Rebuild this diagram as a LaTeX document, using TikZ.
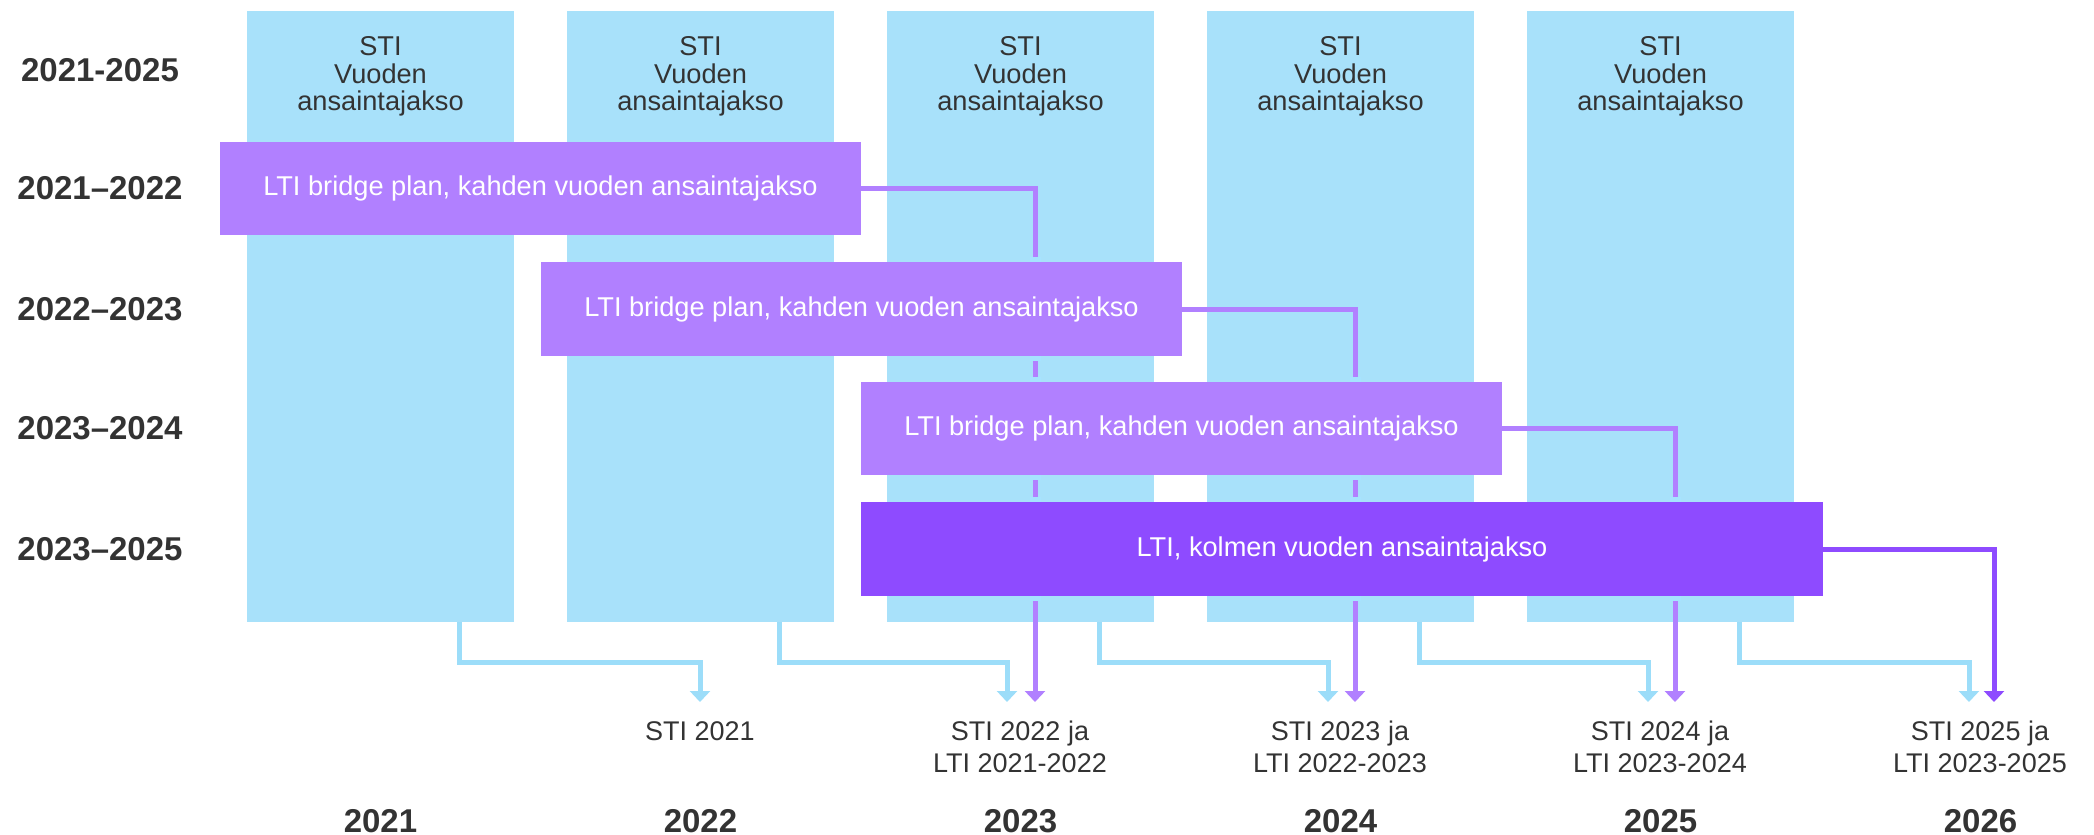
\documentclass[tikz,border=0pt]{standalone}
\usepackage{fontspec}
\setmainfont{Liberation Sans}
\usetikzlibrary{arrows.meta}
\definecolor{colblue}{HTML}{A8E1FA}
\definecolor{lineblue}{HTML}{9CDDF9}
\definecolor{capblue}{HTML}{A6E3FF}
\definecolor{bridge}{HTML}{B180FF}
\definecolor{ltiviolet}{HTML}{8E4BFF}
\definecolor{txt}{HTML}{333333}
\pgfdeclarelayer{cols}
\pgfdeclarelayer{lines}
\pgfsetlayers{cols,lines,main}
\tikzset{
  colbox/.style={fill=colblue, draw=none, minimum width=267pt, minimum height=611pt, inner sep=0pt},
  coltext/.style={text=txt, font=\fontsize{27.2}{27.5}\selectfont, align=center, inner sep=0pt, anchor=north},
  bridgebox/.style={fill=bridge, draw=none, minimum width=641pt, minimum height=93.5pt, inner sep=0pt, text=white, font=\fontsize{27.2}{27.5}\selectfont},
  ltibox/.style={fill=ltiviolet, draw=none, minimum width=962pt, minimum height=94pt, inner sep=0pt, text=white, font=\fontsize{27.2}{27.5}\selectfont},
  rowlabel/.style={text=txt, font=\fontsize{33}{34}\selectfont\bfseries, inner sep=0pt},
  yearlabel/.style={text=txt, font=\fontsize{33}{34}\selectfont\bfseries, inner sep=0pt, anchor=base},
  paylabel/.style={text=txt, font=\fontsize{27}{32}\selectfont, align=center, inner sep=0pt, anchor=north},
  stiline/.style={draw=lineblue, line width=5pt, -{Triangle[width=20pt,length=11pt]}},
  bridgeline/.style={draw=bridge, line width=5pt, -{Triangle[width=20pt,length=11pt]}},
  ltiline/.style={draw=ltiviolet, line width=5pt, -{Triangle[width=20pt,length=11pt]}},
  edgecap/.style={fill=capblue, draw=none, minimum width=11pt, minimum height=5pt, inner sep=0pt},
}
\begin{document}
\begin{tikzpicture}[x=1pt, y=-1pt]
\useasboundingbox (0,0) rectangle (2094,835);
% STI columns
\begin{pgfonlayer}{cols}
\foreach \i/\x in {1/380.5, 2/700.5, 3/1020.5, 4/1340.5, 5/1660.5} {
  \node[colbox] (c\i) at (\x,316.5) {};
  \node[coltext] (s\i) at (\x,36.5) {STI\\Vuoden\\ansaintajakso};
}
\end{pgfonlayer}
% row labels
\node[rowlabel] (r0) at (100,70) {2021-2025};
\node[rowlabel] (r1) at (100,188.5) {2021–2022};
\node[rowlabel] (r2) at (100,309) {2022–2023};
\node[rowlabel] (r3) at (100,428.5) {2023–2024};
\node[rowlabel] (r4) at (100,549) {2023–2025};
% LTI boxes
\node[bridgebox] (b1) at (540.5,188.5) {LTI bridge plan, kahden vuoden ansaintajakso};
\node[bridgebox] (b2) at (861.5,309) {LTI bridge plan, kahden vuoden ansaintajakso};
\node[bridgebox] (b3) at (1181.5,428.5) {LTI bridge plan, kahden vuoden ansaintajakso};
\node[ltibox] (b4) at (1342,549) {LTI, kolmen vuoden ansaintajakso};
% arrow end points
\coordinate (a1) at (700,702);
\coordinate (a2) at (1007,702);
\coordinate (a3) at (1328,702);
\coordinate (a4) at (1648,702);
\coordinate (a5) at (1969,702);
\coordinate (t1) at (1035,702);
\coordinate (t2) at (1355,702);
\coordinate (t3) at (1675,702);
\coordinate (t4) at (1994,702);
\begin{pgfonlayer}{lines}
% STI connectors
\foreach \i in {1,...,5} {
  \draw[stiline] ([xshift=78.5pt]c\i.south) -- ++(0,40) -| (a\i);
}
% LTI connectors
\draw[bridgeline] (b1.east) -| (t1);
\draw[bridgeline] (b2.east) -| (t2);
\draw[bridgeline] (b3.east) -| (t3);
\draw[ltiline] (b4.east) -| (t4);
% little caps where the lines pass under the boxes
\foreach \x/\ys in {1035/{259.5,358.5,379.5,477.5,499.5,598.5}, 1355/{379.5,477.5,499.5,598.5}, 1675/{499.5,598.5}} {
  \foreach \y in \ys { \node[edgecap] at (\x,\y) {}; }
}
\end{pgfonlayer}
% payout labels
\node[paylabel] (p1) at (700,721) {STI 2021};
\node[paylabel] (p2) at (1020,721) {STI 2022 ja\\LTI 2021-2022};
\node[paylabel] (p3) at (1340,721) {STI 2023 ja\\LTI 2022-2023};
\node[paylabel] (p4) at (1660,721) {STI 2024 ja\\LTI 2023-2024};
\node[paylabel] (p5) at (1980,721) {STI 2025 ja\\LTI 2023-2025};
% year labels
\node[yearlabel] (y1) at (380.5,832) {2021};
\node[yearlabel] (y2) at (700.5,832) {2022};
\node[yearlabel] (y3) at (1020.5,832) {2023};
\node[yearlabel] (y4) at (1340.5,832) {2024};
\node[yearlabel] (y5) at (1660.5,832) {2025};
\node[yearlabel] (y6) at (1980.5,832) {2026};
\end{tikzpicture}
\end{document}
